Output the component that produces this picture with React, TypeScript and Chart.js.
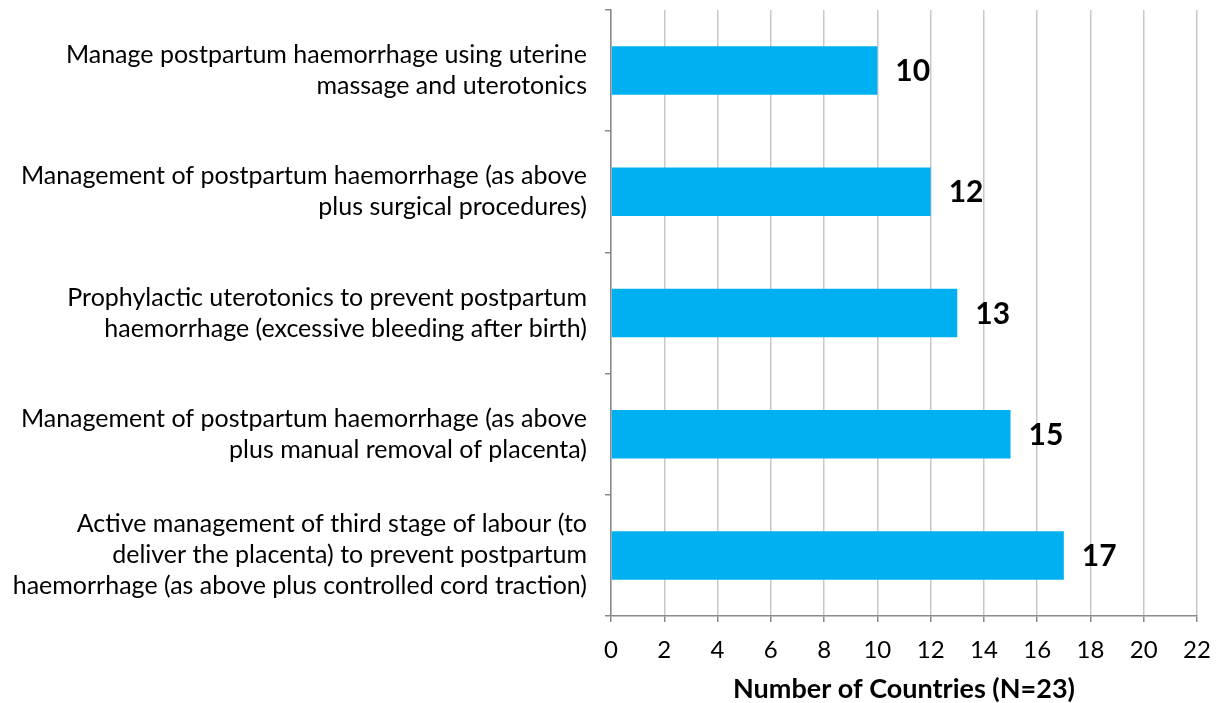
import React, { useEffect, useRef } from "react";
import { Chart, registerables } from "chart.js";

Chart.register(...registerables);

const categories: string[][] = [
  ["Manage postpartum haemorrhage using uterine", "massage and uterotonics"],
  ["Management of postpartum haemorrhage (as above", "plus surgical procedures)"],
  ["Prophylactic uterotonics to prevent postpartum", "haemorrhage (excessive bleeding after birth)"],
  ["Management of postpartum haemorrhage (as above", "plus manual removal of placenta)"],
  [
    "Active management of third stage of labour (to",
    "deliver the placenta) to prevent postpartum",
    "haemorrhage (as above plus controlled cord traction)",
  ],
];
const values: number[] = [10, 12, 13, 15, 17];
const xMin = 0;
const xMax = 22;
const xStep = 2;
const xTitle = "Number of Countries (N=23)";

const FONT = "Lato, 'Open Sans', sans-serif";

const valueLabels = {
  id: "valueLabels",
  afterDatasetsDraw(chart: any) {
    const ctx = chart.ctx;
    const meta = chart.getDatasetMeta(0);
    ctx.save();
    ctx.font = `bold 30px ${FONT}`;
    ctx.fillStyle = "#000";
    ctx.textAlign = "left";
    ctx.textBaseline = "middle";
    meta.data.forEach((bar: any, i: number) => {
      ctx.fillText(String(values[i]), bar.x + 18, bar.y + 1);
    });
    ctx.restore();
  },
};

export default function App() {
  const ref = useRef<HTMLCanvasElement>(null);
  useEffect(() => {
    if (!ref.current) return;
    const chart = new Chart(ref.current, {
      type: "bar",
      data: {
        labels: categories,
        datasets: [
          {
            data: values,
            backgroundColor: "#00B0F0",
            borderWidth: 0,
            barPercentage: 0.4,
            categoryPercentage: 1,
          },
        ],
      },
      options: {
        indexAxis: "y",
        animation: false,
        responsive: true,
        maintainAspectRatio: false,
        layout: { padding: { top: 10, right: 20, left: 0, bottom: 0 } },
        plugins: {
          legend: { display: false },
          tooltip: { enabled: false },
        },
        scales: {
          x: {
            min: xMin,
            max: xMax,
            ticks: {
              stepSize: xStep,
              color: "#000",
              font: { family: FONT, size: 24 },
              padding: 14,
            },
            grid: {
              color: "#c8c8c8",
              lineWidth: 1.5,
              tickColor: "#8a8a8a",
              tickLength: 6,
            },
            border: { display: true, color: "#8a8a8a", width: 1.5 },
            title: {
              display: true,
              text: xTitle,
              color: "#000",
              font: { family: FONT, size: 27, weight: "bold" },
              padding: { top: 0, bottom: -2 },
            },
            afterFit(scale: any) {
              scale.height = 87;
              scale.paddingLeft = 0;
              scale.paddingRight = 0;
            },
          },
          y: {
            offset: true,
            ticks: {
              color: "#000",
              font: { family: FONT, size: 25, lineHeight: 1.24 },
              padding: 18,
            },
            grid: {
              offset: true,
              drawOnChartArea: false,
              drawTicks: true,
              tickLength: 6,
              tickColor: "#8a8a8a",
              lineWidth: 1.5,
            },
            border: { display: true, color: "#8a8a8a", width: 1.5 },
            afterFit(scale: any) {
              scale.width = 611;
              scale.paddingTop = 0;
              scale.paddingBottom = 0;
            },
          },
        },
      },
      plugins: [valueLabels],
    });
    return () => chart.destroy();
  }, []);
  return (
    <div style={{ position: "fixed", left: 0, top: 0, width: 1217, height: 703, background: "#fff" }}>
      <canvas ref={ref} />
    </div>
  );
}
